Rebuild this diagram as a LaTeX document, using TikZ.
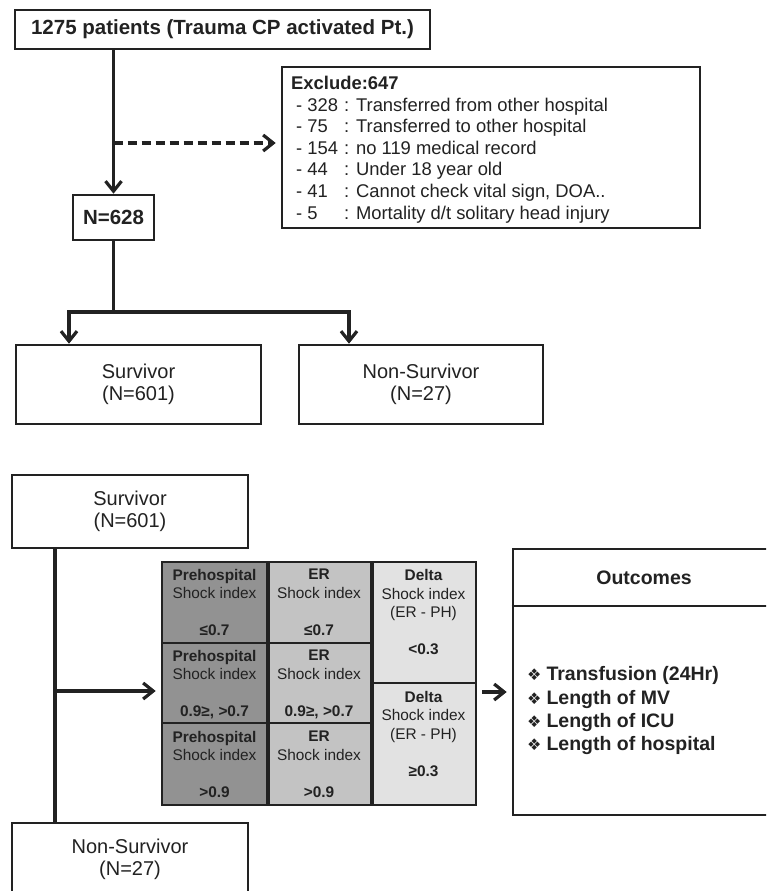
\documentclass[tikz,border=0pt]{standalone}
\usepackage{fontspec}
\setmainfont{Liberation Sans}
\newfontfamily\symfont{DejaVu Sans}
\usetikzlibrary{arrows.meta,calc}
\definecolor{ink}{HTML}{222222}
\definecolor{cA}{HTML}{929292}
\definecolor{cB}{HTML}{C3C3C3}
\definecolor{cC}{HTML}{E2E2E2}
\begin{document}
\begin{tikzpicture}[x=1pt,y=-1pt,
  box/.style={draw=ink, line width=2.6pt, fill=white, inner sep=0pt, text=ink, align=center},
  conn/.style={draw=ink, line width=3.2pt},
  arr/.style={conn, -{Straight Barb[length=10pt,width=16pt,line width=3.2pt]}},
  big/.style={font=\fontsize{20}{21.5}\selectfont},
  bigb/.style={font=\fontsize{20.5}{24}\selectfont\bfseries},
  cell/.style={draw=ink, line width=1.6pt, inner sep=0pt},
  celltxt/.style={text=ink, align=center, inner sep=0pt, font=\fontsize{15.4}{18.5}\selectfont},
  sep/.style={draw=ink, line width=3.6pt}
]
\useasboundingbox (0,0) rectangle (766,891);
\clip (0,0) rectangle (766,891);

% ---------- top flow ----------
\node[box, bigb, minimum width=415, minimum height=39] (top) at (222.5,29.5) {1275 patients (Trauma CP activated Pt.)};
\node[box, bigb, minimum width=81, minimum height=45] (n628) at (113.5,217.5) {N=628};
\node[box, minimum width=418, minimum height=161] (excl) at (491,147.5) {};
\node[anchor=base west, inner sep=0pt, text=ink, font=\fontsize{18.4}{21.6}\selectfont] (excltxt) at (291,89.5)
 {\begin{tabular}[t]{@{}l@{\hspace{6pt}}l@{}}
  \multicolumn{2}{@{}l@{}}{\bfseries Exclude:647}\\
  \hspace{5pt}- 328 & : Transferred from other hospital\\
  \hspace{5pt}- 75  & : Transferred to other hospital\\
  \hspace{5pt}- 154 & : no 119 medical record\\
  \hspace{5pt}- 44  & : Under 18 year old\\
  \hspace{5pt}- 41  & : Cannot check vital sign, DOA..\\
  \hspace{5pt}- 5   & : Mortality d/t solitary head injury
 \end{tabular}};
\node[box, big, minimum width=245, minimum height=79] (surv) at (138.5,384.5) {Survivor\\(N=601)};
\node[box, big, minimum width=244, minimum height=79] (nsurv) at (421,384.5) {Non-Survivor\\(N=27)};

\draw[arr] (top.south -| n628) -- (n628.north);
\coordinate (dsh) at (113.5,143);
\draw[arr, dashed, dash pattern=on 9pt off 5pt, shorten >=5pt] (dsh) -- (excl.west |- dsh);
\coordinate (split) at (113.5,312);
\coordinate (sl) at (69,312);
\coordinate (sr) at (349,312);
\draw[conn] (n628.south) -- (split);
\draw[conn, line cap=rect] (sl) -- (sr);
\draw[arr] (sl) -- (surv.north -| sl);
\draw[arr] (sr) -- (nsurv.north -| sr);

% ---------- bottom ----------
\node[box, big, minimum width=236, minimum height=73] (surv2) at (130,511.5) {Survivor\\(N=601)};
\node[box, big, minimum width=236, minimum height=73] (nsurv2) at (130,859.5) {Non-Survivor\\(N=27)};
\coordinate (v1) at (55,548);
\coordinate (v2) at (55,823);
\coordinate (v3) at (55,691);
\draw[conn] (surv2.south -| v1) -- (nsurv2.north -| v2);

% table cells
\node[cell, fill=cA, minimum width=105, minimum height=81] (a1) at (214.5,602.5) {};
\node[cell, fill=cA, minimum width=105, minimum height=80] (a2) at (214.5,683) {};
\node[cell, fill=cA, minimum width=105, minimum height=82] (a3) at (214.5,764) {};
\node[cell, fill=cB, minimum width=104, minimum height=81] (b1) at (319,602.5) {};
\node[cell, fill=cB, minimum width=104, minimum height=80] (b2) at (319,683) {};
\node[cell, fill=cB, minimum width=104, minimum height=82] (b3) at (319,764) {};
\node[cell, fill=cC, minimum width=105, minimum height=121] (c1) at (423.5,622.5) {};
\node[cell, fill=cC, minimum width=105, minimum height=122] (c2) at (423.5,744) {};
\node[draw=ink, line width=2.6pt, minimum width=314, minimum height=243, inner sep=0pt] (tbl) at (319,683.5) {};
\draw[sep] (a1.north east) -- (a3.south east);
\draw[sep] (b1.north east) -- (b3.south east);

\node[celltxt] (ta1) at (214.5,602.5) {\bfseries Prehospital\\Shock index\\ \\\bfseries ≤0.7};
\node[celltxt] (ta2) at (214.5,684.5) {\bfseries Prehospital\\Shock index\\ \\\bfseries 0.9≥, >0.7};
\node[celltxt] (ta3) at (214.5,764.5) {\bfseries Prehospital\\Shock index\\ \\\bfseries >0.9};
\node[celltxt] (tb1) at (319,602.5) {\bfseries ER\\Shock index\\ \\\bfseries ≤0.7};
\node[celltxt] (tb2) at (319,684.5) {\bfseries ER\\Shock index\\ \\\bfseries 0.9≥, >0.7};
\node[celltxt] (tb3) at (319,764.5) {\bfseries ER\\Shock index\\ \\\bfseries >0.9};
\node[celltxt] (tc1) at (423.5,612) {\bfseries Delta\\Shock index\\(ER - PH)\\ \\\bfseries <0.3};
\node[celltxt] (tc2) at (423.5,733.5) {\bfseries Delta\\Shock index\\(ER - PH)\\ \\\bfseries ≥0.3};

\draw[arr, shorten >=5pt] (v3) -- (tbl.west |- v3);

% outcomes
\node[box, minimum width=262, minimum height=266] (outc) at (644,682) {};
\draw[draw=ink, line width=2.6pt] (outc.west |- 0,606) -- (outc.east |- 0,606);
\node[text=ink, inner sep=0pt, font=\fontsize{19.5}{22}\selectfont\bfseries] (outh) at (644,578) {Outcomes};
\node[anchor=west, inner sep=0pt, text=ink, font=\fontsize{19.5}{23.3}\selectfont\bfseries] (outl) at (527,711)
 {\begin{tabular}{@{}l@{}}
  {\symfont\fontsize{16}{16}\selectfont ❖}\hspace{5pt}Transfusion (24Hr)\\
  {\symfont\fontsize{16}{16}\selectfont ❖}\hspace{5pt}Length of MV\\
  {\symfont\fontsize{16}{16}\selectfont ❖}\hspace{5pt}Length of ICU\\
  {\symfont\fontsize{16}{16}\selectfont ❖}\hspace{5pt}Length of hospital
 \end{tabular}};
\coordinate (ta) at (476,692);
\draw[arr, shorten <=6pt, shorten >=5pt] (ta) -- (outc.west |- ta);
\end{tikzpicture}
\end{document}
